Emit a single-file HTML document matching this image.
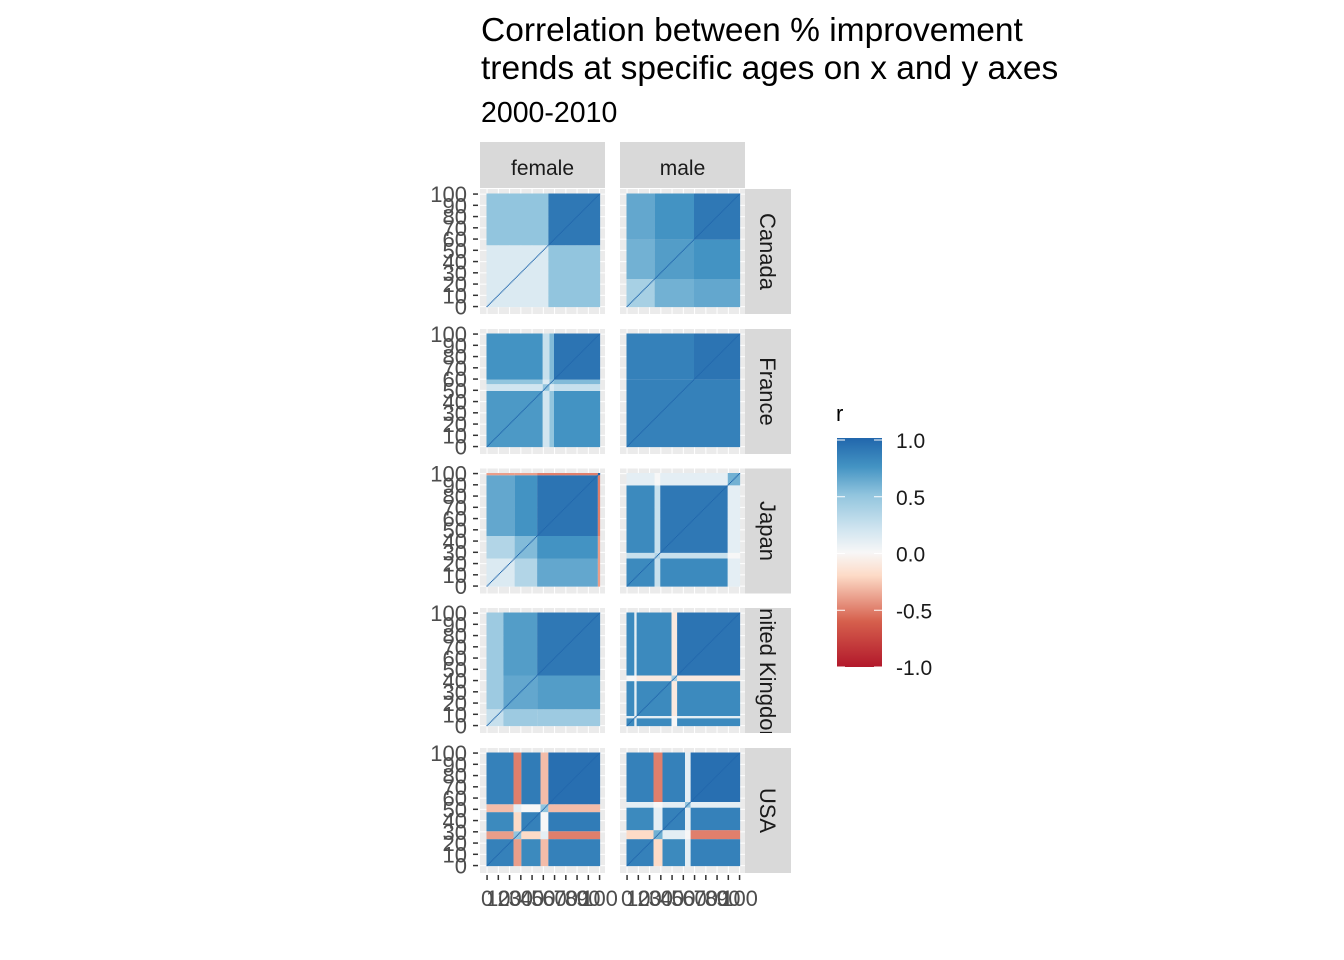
<!DOCTYPE html>
<html><head><meta charset="utf-8"><style>
body{margin:0;background:#fff;}
svg{display:block;font-family:"Liberation Sans",Arial,sans-serif;}
</style></head><body>
<svg id="chart" width="1344" height="960">
<text x="481" y="41" font-size="33.5" fill="#000">Correlation between % improvement</text>
<text x="481" y="79" font-size="33.5" fill="#000">trends at specific ages on x and y axes</text>
<text x="481" y="122" font-size="28.5" fill="#000">2000-2010</text>
<g id="panels"></g>
<g id="legend"></g>
</svg>
<script>
const sexes=["female","male"];
const countries=["Canada","France","Japan","United Kingdom","USA"];
const ticks=[0,10,20,30,40,50,60,70,80,90,100];
const legendTicks=[1.0,0.5,0.0,-0.5,-1.0];
// block breakpoints (ages) and block correlations for each panel
const breaks_Canada_female=[0,55,101];
const vals_Canada_female=[[0.15,0.5],[0.5,0.9]];
const breaks_Canada_male=[0,25,60,101];
const vals_Canada_male=[[0.4,0.6,0.65],[0.6,0.7,0.75],[0.65,0.75,0.9]];
const breaks_France_female=[0,50,56,60,101];
const vals_France_female=[[0.72,0.2,0.5,0.75],[0.2,0.5,0.15,0.25],[0.5,0.15,0.5,0.55],[0.75,0.25,0.55,0.92]];
const breaks_France_male=[0,60,101];
const vals_France_male=[[0.85,0.85],[0.85,0.92]];
const breaks_Japan_female=[0,25,45,99,101];
const vals_Japan_female=[[0.15,0.35,0.65,-0.4],[0.35,0.55,0.75,-0.4],[0.65,0.75,0.92,-0.5],[-0.4,-0.4,-0.5,1]];
const breaks_Japan_male=[0,25,30,90,101];
const vals_Japan_male=[[0.8,0.25,0.8,0.1],[0.25,0.35,0.25,0.0],[0.8,0.25,0.9,0.1],[0.1,0.0,0.1,0.6]];
const breaks_UK_female=[0,15,45,101];
const vals_UK_female=[[0.25,0.45,0.45],[0.45,0.65,0.7],[0.45,0.7,0.9]];
const breaks_UK_male=[0,7,9,40,45,101];
const vals_UK_male=[[0.8,0.1,0.8,0.0,0.8],[0.1,0.3,0.1,0.0,0.1],[0.8,0.1,0.8,-0.1,0.8],[0.0,0.0,-0.1,0.4,-0.1],[0.8,0.1,0.8,-0.1,0.92]];
const breaks_USA_female=[0,24,31,48,55,101];
const vals_USA_female=[[0.85,-0.4,0.8,-0.3,0.85],[-0.4,0.5,-0.2,0.1,-0.5],[0.8,-0.2,0.85,0.0,0.88],[-0.3,0.1,0.0,0.5,-0.3],[0.85,-0.5,0.88,-0.3,0.95]];
const breaks_USA_male=[0,24,32,52,57,101];
const vals_USA_male=[[0.85,-0.2,0.8,0.1,0.85],[-0.2,0.6,0.1,0.0,-0.5],[0.8,0.1,0.85,0.1,0.85],[0.1,0.0,0.1,0.5,0.1],[0.85,-0.5,0.85,0.1,0.95]];
const panelBreaks=[[breaks_Canada_female,breaks_Canada_male],[breaks_France_female,breaks_France_male],[breaks_Japan_female,breaks_Japan_male],[breaks_UK_female,breaks_UK_male],[breaks_USA_female,breaks_USA_male]];
const panelVals=[[vals_Canada_female,vals_Canada_male],[vals_France_female,vals_France_male],[vals_Japan_female,vals_Japan_male],[vals_UK_female,vals_UK_male],[vals_USA_female,vals_USA_male]];

const NS="http://www.w3.org/2000/svg";
const stops=[[-1,[178,24,43]],[-0.6,[214,96,77]],[-0.2,[253,219,199]],[0,[247,247,247]],[0.2,[209,229,240]],[0.5,[146,197,222]],[0.75,[67,147,195]],[1,[33,102,172]]];
function color(v){v=Math.max(-1,Math.min(1,v));for(let i=1;i<stops.length;i++){if(v<=stops[i][0]){const a=stops[i-1],b=stops[i];const t=(v-a[0])/(b[0]-a[0]);const c=a[1].map((x,k)=>Math.round(x+(b[1][k]-x)*t));return `rgb(${c})`;}}return "rgb(33,102,172)";}
function mk(tag,attrs,parent){const e=document.createElementNS(NS,tag);for(const k in attrs)e.setAttribute(k,attrs[k]);parent.appendChild(e);return e;}
const colX=[480,620], rowY=[189,329,468.5,608,748], PW=125, PH=125, CS=1.125;
function xs(c,a){return colX[c]+6.5+a*CS;}
function ys(r,a){return rowY[r]+4.5+(101-a)*CS;}
const g=document.getElementById("panels");
const defs=mk("defs",{},g);
sexes.forEach((s,c)=>{
 const st=mk("g",{},g);
 
 
 mk("rect",{x:colX[c],y:142,width:PW,height:46,fill:"#d9d9d9"},st);
 const t=mk("text",{x:colX[c]+PW/2,y:175,"font-size":21,"text-anchor":"middle",fill:"#1a1a1a"},st);t.textContent=s;
});
countries.forEach((cn,r)=>{
 const st=mk("g",{},g);
 
 
 const cp=mk("clipPath",{id:"clip"+r},defs);
 mk("rect",{x:745,y:rowY[r],width:46,height:PH},cp);
 mk("rect",{x:745,y:rowY[r],width:46,height:PH,fill:"#d9d9d9"},st);
 const cy=rowY[r]+PH/2;
 const cg=mk("g",{"clip-path":`url(#clip${r})`},st);
 const t=mk("text",{x:760,y:cy,"font-size":22,"text-anchor":"middle",fill:"#1a1a1a",transform:`rotate(90 760 ${cy})`},cg);t.textContent=cn;
 const ya=mk("g",{},g);
 
 
 ticks.forEach(tk=>{const y=ys(r,tk)-CS/2;
  mk("line",{x1:473,x2:478,y1:y,y2:y,stroke:"#333","stroke-width":1.5},ya);
  const tt=mk("text",{x:467,y:y+8,"font-size":22,"text-anchor":"end",fill:"#4d4d4d"},ya);tt.textContent=tk;});
 sexes.forEach((s,c)=>{
  const p=mk("g",{},g);
  
  
  mk("rect",{x:colX[c],y:rowY[r],width:PW,height:PH,fill:"#ebebeb"},p);
  for(let k=0;k<=10;k++){const x=xs(c,k*10+0.5);mk("line",{x1:x,x2:x,y1:rowY[r],y2:rowY[r]+PH,stroke:"#fff","stroke-width":1},p);
   const y=ys(r,k*10)-CS/2;mk("line",{x1:colX[c],x2:colX[c]+PW,y1:y,y2:y,stroke:"#fff","stroke-width":1},p);}
  const br=panelBreaks[r][c], vv=panelVals[r][c];
  for(let i=0;i<br.length-1;i++)for(let j=0;j<br.length-1;j++){
   const cell=mk("rect",{x:xs(c,br[i]),y:ys(r,br[j+1]),width:(br[i+1]-br[i])*CS,height:(br[j+1]-br[j])*CS,fill:color(vv[j][i])},p);
   
   
  }
  for(let a=0;a<=100;a++){
   const d=mk("rect",{x:xs(c,a),y:ys(r,a+1),width:CS,height:CS,fill:color(1)},p);
   
   
  }
 });
});
sexes.forEach((s,c)=>{
 const xa=mk("g",{},g);
 
 
 ticks.forEach(tk=>{const x=xs(c,tk+0.5);
  mk("line",{x1:x,x2:x,y1:875,y2:880,stroke:"#333","stroke-width":1.5},xa);
  const tt=mk("text",{x:x,y:906,"font-size":22,"text-anchor":"middle",fill:"#4d4d4d"},xa);tt.textContent=tk;});
});
const L=document.getElementById("legend");
const lt=mk("text",{x:836,y:421,"font-size":22,fill:"#000"},L);lt.textContent="r";
const lx=837,lw=45,ltop=438,lh=229;
const grad=mk("linearGradient",{id:"lg",x1:0,y1:1,x2:0,y2:0},defs);
stops.forEach(s=>mk("stop",{offset:(s[0]+1)/2,"stop-color":color(s[0])},grad));
mk("rect",{x:lx,y:ltop,width:lw,height:lh,fill:"url(#lg)"},L);
legendTicks.forEach(v=>{const y=ltop+2+(1-v)/2*(lh-2);
 mk("line",{x1:lx,x2:lx+8,y1:y,y2:y,stroke:"#fff","stroke-width":1},L);
 mk("line",{x1:lx+lw-8,x2:lx+lw,y1:y,y2:y,stroke:"#fff","stroke-width":1},L);
 const t=mk("text",{x:896,y:y+8,"font-size":21,fill:"#1a1a1a"},L);t.textContent=v.toFixed(1);});
</script>
</body></html>
